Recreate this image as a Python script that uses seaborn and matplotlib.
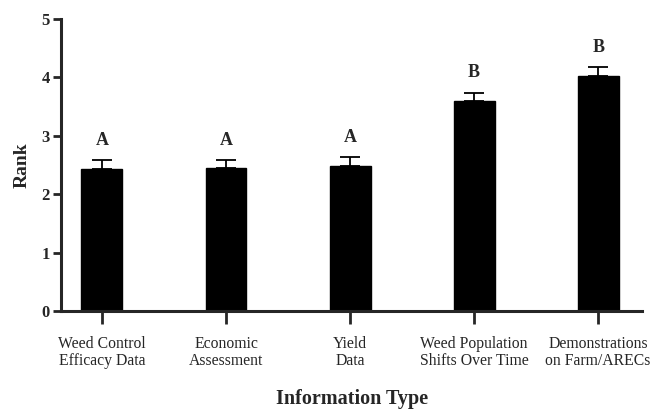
import numpy as np
import pandas as pd
import matplotlib
matplotlib.use("Agg")
import matplotlib.pyplot as plt
import seaborn as sns

# datos
categories = ["Weed Control\nEfficacy Data", "Economic\nAssessment", "Yield\nData",
              "Weed Population\nShifts Over Time", "Demonstrations\non Farm/ARECs"]
rank_mean = [2.43, 2.45, 2.49, 3.60, 4.02]
rank_se = [0.15, 0.14, 0.14, 0.14, 0.15]
letters = ["A", "A", "A", "B", "B"]

df = pd.DataFrame({"Information Type": categories, "Rank": rank_mean, "SE": rank_se})

sns.set_style("ticks")
plt.rcParams['font.family'] = ['Liberation Serif', 'DejaVu Serif']

fig = plt.figure(figsize=(6.52, 4.09), dpi=100)
ax = fig.add_axes([0.0936, 0.2396, 0.8914, 0.7139])

sns.barplot(data=df, x="Information Type", y="Rank", color="black",
            edgecolor="black", width=0.33, ax=ax, errorbar=None, saturation=1)

pos = np.arange(len(categories))
ax.errorbar(pos, df["Rank"], yerr=[np.zeros(len(pos)), df["SE"]], fmt="none",
            ecolor="black", elinewidth=1.3, capsize=7, capthick=1.3)

for p, m, s, l in zip(pos, rank_mean, rank_se, letters):
    ax.annotate(l, (p, m + s), xytext=(0, 8), textcoords="offset points",
                ha="center", va="bottom", fontsize=13, fontweight="bold")

ax.set_ylim(0, 5)
ax.set_xlim(-0.33, 4.355)
ax.set_yticks([0, 1, 2, 3, 4, 5])
sns.despine(ax=ax)
for sp in ["left", "bottom"]:
    ax.spines[sp].set_linewidth(2.2)
ax.tick_params(axis="y", length=6, width=2, labelsize=12, pad=2)
ax.tick_params(axis="x", length=9, width=2, labelsize=11.3, pad=9)
for t in ax.get_yticklabels():
    t.set_fontweight("bold")
for t in ax.get_xticklabels():
    t.set_linespacing(1.1)

ax.set_ylabel("Rank", fontsize=14, fontweight="bold", labelpad=8)
ax.set_xlabel("Information Type", fontsize=14.5, fontweight="bold", labelpad=14)

fig.savefig("out.png", dpi=100)
